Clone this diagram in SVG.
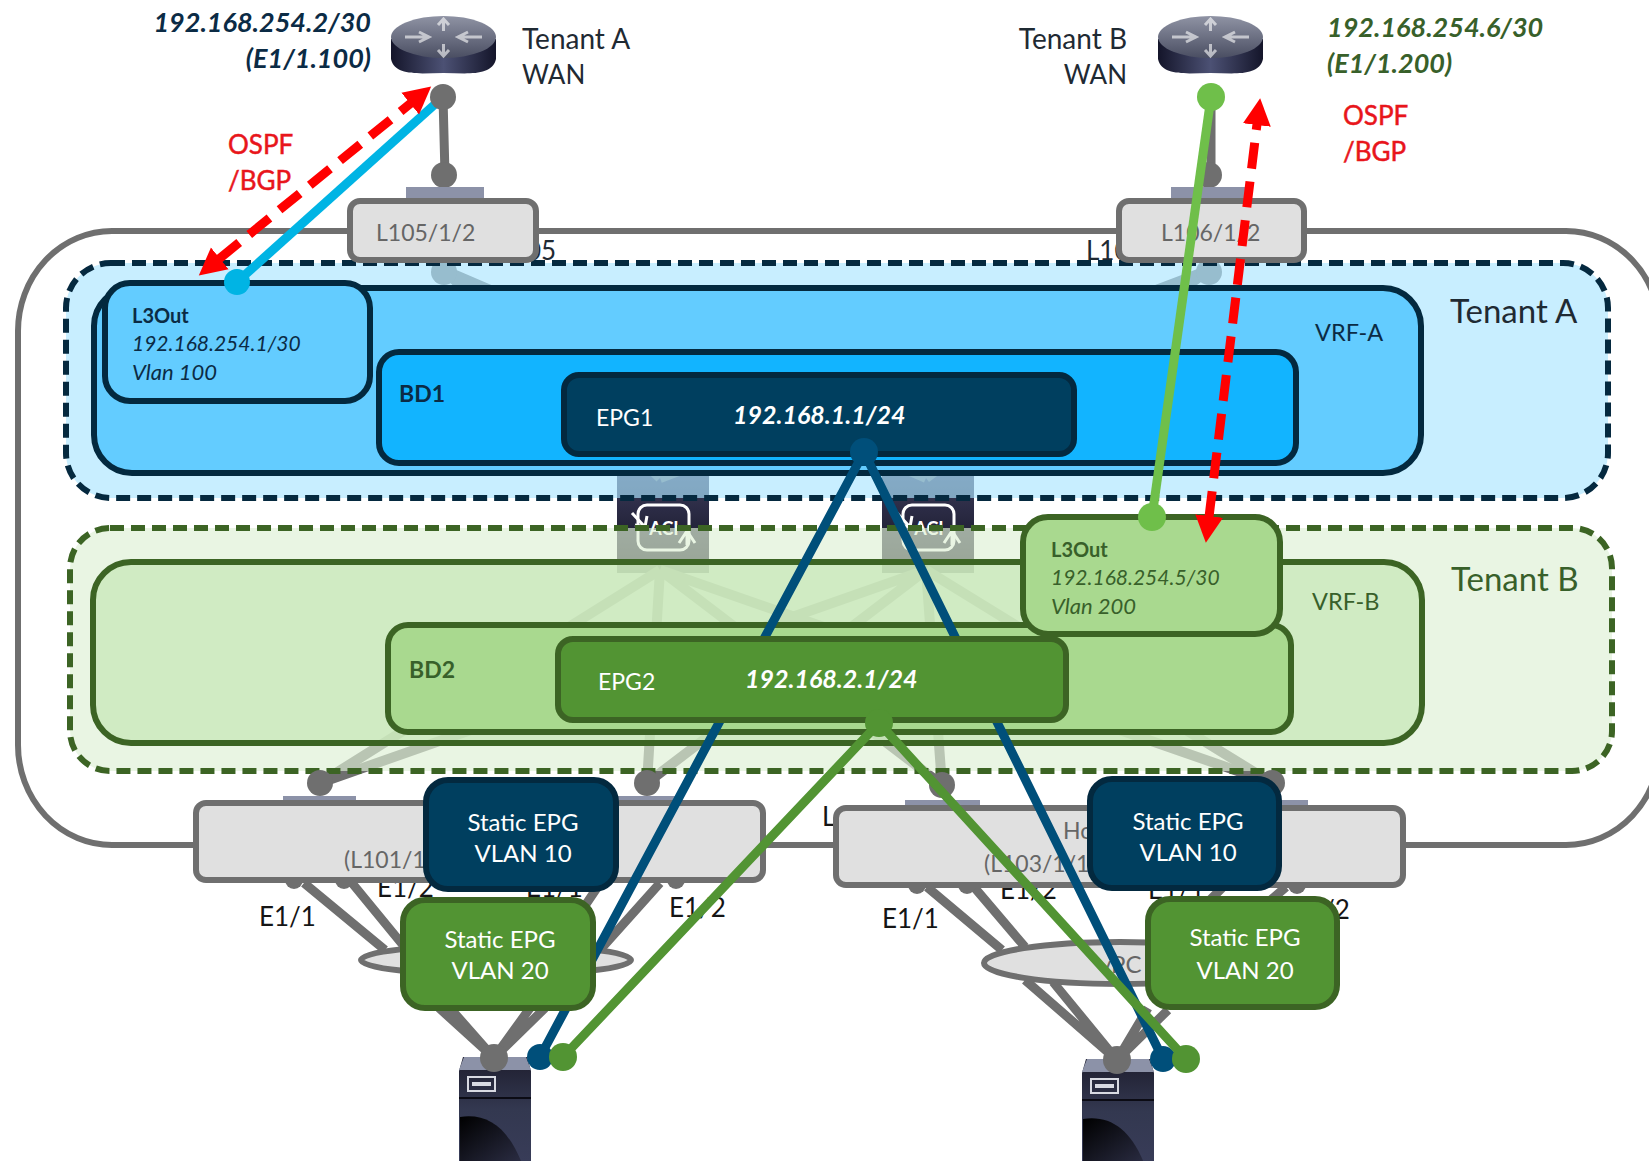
<svg xmlns="http://www.w3.org/2000/svg" xmlns:xlink="http://www.w3.org/1999/xlink" width="1649" height="1161" viewBox="0 0 1649 1161">
<style>
text{font-family:Lato,"Liberation Sans",sans-serif;font-size:26px;fill:#1f2a33}
.w{fill:#fff}.b{font-weight:700}.i{font-style:italic}.bi{font-weight:700;font-style:italic}
.navy{fill:#0b2b45}.grn{fill:#38602a}.red{fill:#e8151b;stroke:#e8151b;stroke-width:.5}
.gry{fill:#666}
.ten{font-size:28px}
.port{font-size:26px;fill:#151515}
.st{font-size:24px;fill:#fff;text-anchor:middle}
.box{fill:#e0e0e0;stroke:#6f6f6f;stroke-width:6}
.dotline{fill:none;stroke:#6f6f6f;stroke-width:9}
.gd{fill:#6f6f6f}
.seb{fill:#003f5f;stroke:#03293f;stroke-width:6}
.seg{fill:#529433;stroke:#3c6424;stroke-width:6}
.ln{fill:none;stroke-width:9}
.redl{fill:none;stroke:#ff0000;stroke-width:9;stroke-dasharray:26 13;marker-start:url(#ah);marker-end:url(#ah)}
.tab{fill:#8c92a8}
.logo{fill:none;stroke:#fff;stroke-width:3}
</style>
<defs>
<marker id="ah" markerUnits="userSpaceOnUse" markerWidth="30" markerHeight="32" refX="1" refY="16" orient="auto-start-reverse"><path d="M0 2L27 16L0 30Z" fill="#ff0000"/></marker>
<linearGradient id="rb" x1="0" x2="1" y1="0" y2="0"><stop offset="0" stop-color="#14152a"/><stop offset=".5" stop-color="#4c5174"/><stop offset="1" stop-color="#14152a"/></linearGradient>
<linearGradient id="rt" x1="0" x2="0" y1="0" y2="1"><stop offset="0" stop-color="#8f93a4"/><stop offset="1" stop-color="#4a4e62"/></linearGradient>
<linearGradient id="sv" x1="0" x2="0" y1="0" y2="1"><stop offset="0" stop-color="#1e1e2e"/><stop offset=".5" stop-color="#333850"/><stop offset="1" stop-color="#383c58"/></linearGradient>
<linearGradient id="sb" x1="0" x2="1" y1="0" y2="1"><stop offset="0" stop-color="#000"/><stop offset="1" stop-color="#2a2c42"/></linearGradient>
<linearGradient id="sp" x1="0" x2="0" y1="0" y2="1"><stop offset="0" stop-color="#3a3a58"/><stop offset=".55" stop-color="#23233a"/><stop offset="1" stop-color="#0c0c16"/></linearGradient>
<g id="router">
<path d="M0 24V44C4 62 30 58 52.500 58C75 58 101 62 105 44V24Z" fill="url(#rb)"/>
<ellipse cx="52.500" cy="22" rx="52.500" ry="21" fill="url(#rt)"/>
<path d="M14 22H38M28 17L38 22L28 27M91 22H67M77 17L67 22L77 27M52.500 5V16M47 10L52.500 4L58 10M52.500 40V29M47 35L52.500 41L58 35" fill="none" stroke="#fff" stroke-width="3" opacity=".6"/>
</g>
<g id="server">
<path d="M4 0H68L72 14V104H0V14Z" fill="url(#sv)"/>
<path d="M5 0H67L72 13H0Z" fill="#8c92a8"/>
<rect x="9" y="20" width="27" height="14" fill="none" stroke="#d8dae2" stroke-width="2"/>
<rect x="13" y="25" width="19" height="4" fill="#d8dae2"/>
<path d="M0 41H72" stroke="#0b0b14" stroke-width="2"/>
<path d="M1 60C28 56 48 70 62 104H1Z" fill="url(#sb)"/>
</g>
<g id="spine">
<rect width="92" height="98" fill="url(#sp)"/>
<rect x="21" y="30" width="51" height="45" rx="9" class="logo"/>
<path d="M15 38L28 52M18 50L28 52L30 41" class="logo"/>
<path d="M78 68L70 56L62 68M70 56V70" class="logo"/>
<text x="47" y="60" text-anchor="middle" class="w b" style="font-size:18px">ACI</text>
</g>
</defs>

<rect width="1649" height="1161" fill="#fff"/>

<g id="fabric">
<rect x="18" y="231" width="1642" height="614" rx="94" ry="100" fill="#fff" stroke="#6f6f6f" stroke-width="6"/>
<text x="526" y="260">05</text>
<text x="1086" y="260">L10</text>
</g>

<g id="spines">
<use xlink:href="#spine" href="#spine" x="617" y="475"/>
<use xlink:href="#spine" href="#spine" x="882" y="475"/>
</g>

<g id="fabric-links" class="dotline" style="stroke-width:10">
<path d="M660 570L320 783M660 570L647 783M660 570L942 785M660 570L1272 783"/>
<path d="M926 570L320 783M926 570L647 783M926 570L942 785M926 570L1272 783"/>
<path d="M444 270L660 478M444 270L926 478M1209 270L660 478M1209 270L926 478"/>
</g>
<g id="fabric-top-dots" class="gd">
<circle cx="444" cy="272" r="13"/><circle cx="1209" cy="272" r="13"/>
</g>

<g id="tenant-a">
<rect x="66" y="263" width="1542" height="235" rx="45" fill="#ace5ff" fill-opacity=".66" stroke="#05293f" stroke-width="6" stroke-dasharray="14 7"/>
<text x="1450" y="323" style="font-size:33px">Tenant A</text>
</g>
<g id="vrf-a">
<rect x="94" y="288" width="1327" height="185" rx="38" fill="#63ccff" stroke="#03293f" stroke-width="6"/>
<text x="1315" y="341" class="navy" style="font-size:23.500px">VRF-A</text>
</g>
<g id="l3out-a">
<rect x="105" y="283" width="265" height="118" rx="25" fill="#63ccff" stroke="#03293f" stroke-width="6"/>
<text x="132" y="323" class="b navy" style="font-size:20px">L3Out</text>
<text x="132" y="351" class="i navy" style="font-size:21px">192.168.254.1/30</text>
<text x="132" y="380" class="i navy" style="font-size:22px">Vlan 100</text>
</g>
<g id="bd1">
<rect x="379" y="352" width="917" height="111" rx="20" fill="#12b4ff" stroke="#03293f" stroke-width="6"/>
<text x="399" y="402" class="b navy" style="font-size:23px">BD1</text>
</g>
<g id="epg1">
<rect x="564" y="375" width="510" height="79" rx="15" fill="#003f5f" stroke="#03293f" stroke-width="6"/>
<text x="596" y="426" class="w" style="font-size:23px">EPG1</text>
<text x="733" y="424" class="w bi" style="font-size:25px">192.168.1.1/24</text>
</g>

<g id="tenant-b">
<rect x="70" y="528" width="1542" height="243" rx="40" fill="#def0d5" fill-opacity=".67" stroke="#3c6424" stroke-width="6" stroke-dasharray="14 7"/>
<text x="1451" y="591" class="grn" style="font-size:33px">Tenant B</text>
</g>
<g id="vrf-b">
<rect x="93" y="562" width="1329" height="181" rx="38" fill="#c8e8b9" fill-opacity=".77" stroke="#3c6424" stroke-width="6"/>
<text x="1312" y="610" class="grn" style="font-size:23.500px">VRF-B</text>
</g>
<g id="bd2">
<rect x="388" y="625" width="903" height="107" rx="20" fill="#a9d98f" stroke="#3c6424" stroke-width="6"/>
<text x="409" y="678" class="b grn" style="font-size:23px">BD2</text>
</g>
<g id="l3out-b">
<rect x="1023" y="517" width="257" height="117" rx="25" fill="#a9d98f" stroke="#3c6424" stroke-width="6"/>
<text x="1051" y="557" class="b grn" style="font-size:20px">L3Out</text>
<text x="1051" y="585" class="i grn" style="font-size:21px">192.168.254.5/30</text>
<text x="1051" y="614" class="i grn" style="font-size:22px">Vlan 200</text>
</g>

<g id="router-a">
<use xlink:href="#router" href="#router" x="391" y="15"/>
<text x="522" y="49" class="ten">Tenant A</text>
<text x="522" y="84">WAN</text>
<text x="371" y="32" text-anchor="end" class="bi navy" style="font-size:27px">192.168.254.2/30</text>
<text x="371" y="68" text-anchor="end" class="bi navy" style="font-size:27px">(E1/1.100)</text>
</g>
<g id="router-b">
<use xlink:href="#router" href="#router" x="1158" y="15"/>
<text x="1127" y="49" text-anchor="end" class="ten">Tenant B</text>
<text x="1127" y="84" text-anchor="end">WAN</text>
<text x="1327" y="37" class="bi grn" style="font-size:27px">192.168.254.6/30</text>
<text x="1327" y="73" class="bi grn" style="font-size:27px">(E1/1.200)</text>
</g>

<g id="uplinks">
<path class="dotline" d="M443 97L445 175M1211 97L1211 175"/>
<circle class="gd" cx="444" cy="175" r="13"/><circle class="gd" cx="1209" cy="175" r="13"/>
</g>

<g id="leaf-105">
<rect class="tab" x="406" y="187" width="78" height="16"/>
<rect class="box" x="350" y="201" width="186" height="59" rx="10"/>
<text x="376" y="241" class="gry" style="font-size:23px">L105/1/2</text>
</g>
<g id="leaf-106">
<rect class="tab" x="1171" y="187" width="74" height="16"/>
<rect class="box" x="1119" y="201" width="185" height="59" rx="10"/>
<text x="1161" y="241" class="gry" style="font-size:23px">L106/1/2</text>
</g>

<g id="labels-ports">
<text class="port" x="259" y="926">E1/1</text>
<text class="port" x="377" y="897">E1/2</text>
<text class="port" x="526" y="897">E1/1</text>
<text class="port" x="669" y="917">E1/2</text>
<text class="port" x="882" y="928">E1/1</text>
<text class="port" x="1000" y="899">E1/2</text>
<text class="port" x="1148" y="899">E1/1</text>
<text class="port" x="1293" y="919">E1/2</text>
<text class="port" x="822" y="826">L</text>
</g>

<g id="host-links" class="dotline">
<path d="M304 883L385 950M352 883L407 950M599 885L555 950M660 883L600 950"/>
<path d="M439 1008L494 1058M450 1008L494 1058M545 1008L494 1058M530 1008L494 1058"/>
<path d="M927 887L1002 950M974 887L1025 947M1223 887L1205 905M1286 887L1265 905"/>
<path d="M1025 980L1117 1060M1053 982L1117 1060M1168 1010L1117 1060M1148 1008L1117 1060"/>
</g>
<g id="leaf-dots" class="gd">
<circle cx="320" cy="783" r="13"/><circle cx="647" cy="783" r="13"/><circle cx="942" cy="785" r="13"/><circle cx="1272" cy="783" r="13"/>
<circle cx="294" cy="880" r="9"/><circle cx="344" cy="880" r="9"/><circle cx="676" cy="880" r="9"/>
<circle cx="917" cy="885" r="9"/><circle cx="967" cy="885" r="9"/><circle cx="1297" cy="885" r="9"/>
</g>

<g id="leaf-101-102">
<rect class="tab" x="283" y="796" width="73" height="10"/>
<rect class="tab" x="617" y="796" width="63" height="10"/>
<rect class="box" x="196" y="803" width="567" height="77" rx="10"/>
<text x="344" y="868" class="gry" style="font-size:23px">(L101/1</text>
</g>
<g id="leaf-103-104">
<rect class="tab" x="905" y="800" width="75" height="10"/>
<rect class="tab" x="1280" y="800" width="28" height="10"/>
<rect class="box" x="836" y="808" width="567" height="77" rx="10"/>
<text x="1063" y="839" class="gry" style="font-size:23px">Ho</text>
<text x="984" y="872" class="gry" style="font-size:23px">(L103/1/1</text>
</g>
<g id="vpc-left"><ellipse class="box" cx="496" cy="960" rx="135" ry="15"/></g>
<g id="vpc-right">
<ellipse class="box" cx="1120" cy="963" rx="136" ry="21"/>
<text x="1099" y="973" class="gry" style="font-size:24px">vPC</text>
</g>

<g id="server-a"><use xlink:href="#server" href="#server" x="459" y="1057"/></g>
<g id="server-b"><use xlink:href="#server" href="#server" x="1082" y="1059"/></g>
<g id="host-dots" class="gd"><circle cx="494" cy="1058" r="14"/><circle cx="1117" cy="1060" r="14"/></g>

<g id="connectors-under">
<path class="ln" stroke="#004f7a" d="M864 452L540 1057M864 452L1163 1059"/>
<path class="ln" stroke="#00b4e4" d="M443 97L237 282"/>
<circle cx="237" cy="282" r="13" fill="#00b4e4"/>
<circle cx="443" cy="97" r="13" fill="#6f6f6f"/>
<circle cx="864" cy="452" r="14" fill="#004f7a"/>
<circle cx="540" cy="1057" r="13" fill="#004f7a"/>
<circle cx="1163" cy="1059" r="13" fill="#004f7a"/>
<path class="ln" stroke="#6fbf4a" d="M1211 97L1152 517"/>
<circle cx="1211" cy="97" r="14" fill="#6fbf4a"/>
<circle cx="1152" cy="517" r="14" fill="#6fbf4a"/>
<path class="redl" d="M219 259L411 103"/>
<path class="redl" d="M1209 517L1257 124"/>
</g>

<g id="epg2">
<rect x="558" y="639" width="508" height="81" rx="15" fill="#529433" stroke="#3c6424" stroke-width="6"/>
<text x="598" y="690" class="w" style="font-size:23px">EPG2</text>
<text x="745" y="688" class="w bi" style="font-size:25px">192.168.2.1/24</text>
</g>

<g id="ospf-a"><text x="228" y="154" class="red">OSPF</text><text x="228" y="190" class="red">/BGP</text></g>
<g id="ospf-b"><text x="1343" y="125" class="red">OSPF</text><text x="1343" y="161" class="red">/BGP</text></g>

<g id="static-blue-a"><rect class="seb" x="426" y="780" width="190" height="109" rx="22"/>
<text class="st" x="523" y="831">Static EPG</text><text class="st" x="523" y="862">VLAN 10</text></g>
<g id="static-green-a"><rect class="seg" x="403" y="900" width="190" height="108" rx="22"/>
<text class="st" x="500" y="948">Static EPG</text><text class="st" x="500" y="979">VLAN 20</text></g>
<g id="static-blue-b"><rect class="seb" x="1090" y="779" width="189" height="109" rx="22"/>
<text class="st" x="1188" y="830">Static EPG</text><text class="st" x="1188" y="861">VLAN 10</text></g>
<g id="static-green-b"><rect class="seg" x="1148" y="899" width="189" height="108" rx="22"/>
<text class="st" x="1245" y="946">Static EPG</text><text class="st" x="1245" y="979">VLAN 20</text></g>

<g id="connectors-over">
<path class="ln" stroke="#529433" d="M879 723L563 1057M879 723L1186 1059"/>
<circle cx="879" cy="723" r="14" fill="#529433"/>
<circle cx="563" cy="1057" r="14" fill="#529433"/>
<circle cx="1186" cy="1059" r="14" fill="#529433"/>
</g>
</svg>
